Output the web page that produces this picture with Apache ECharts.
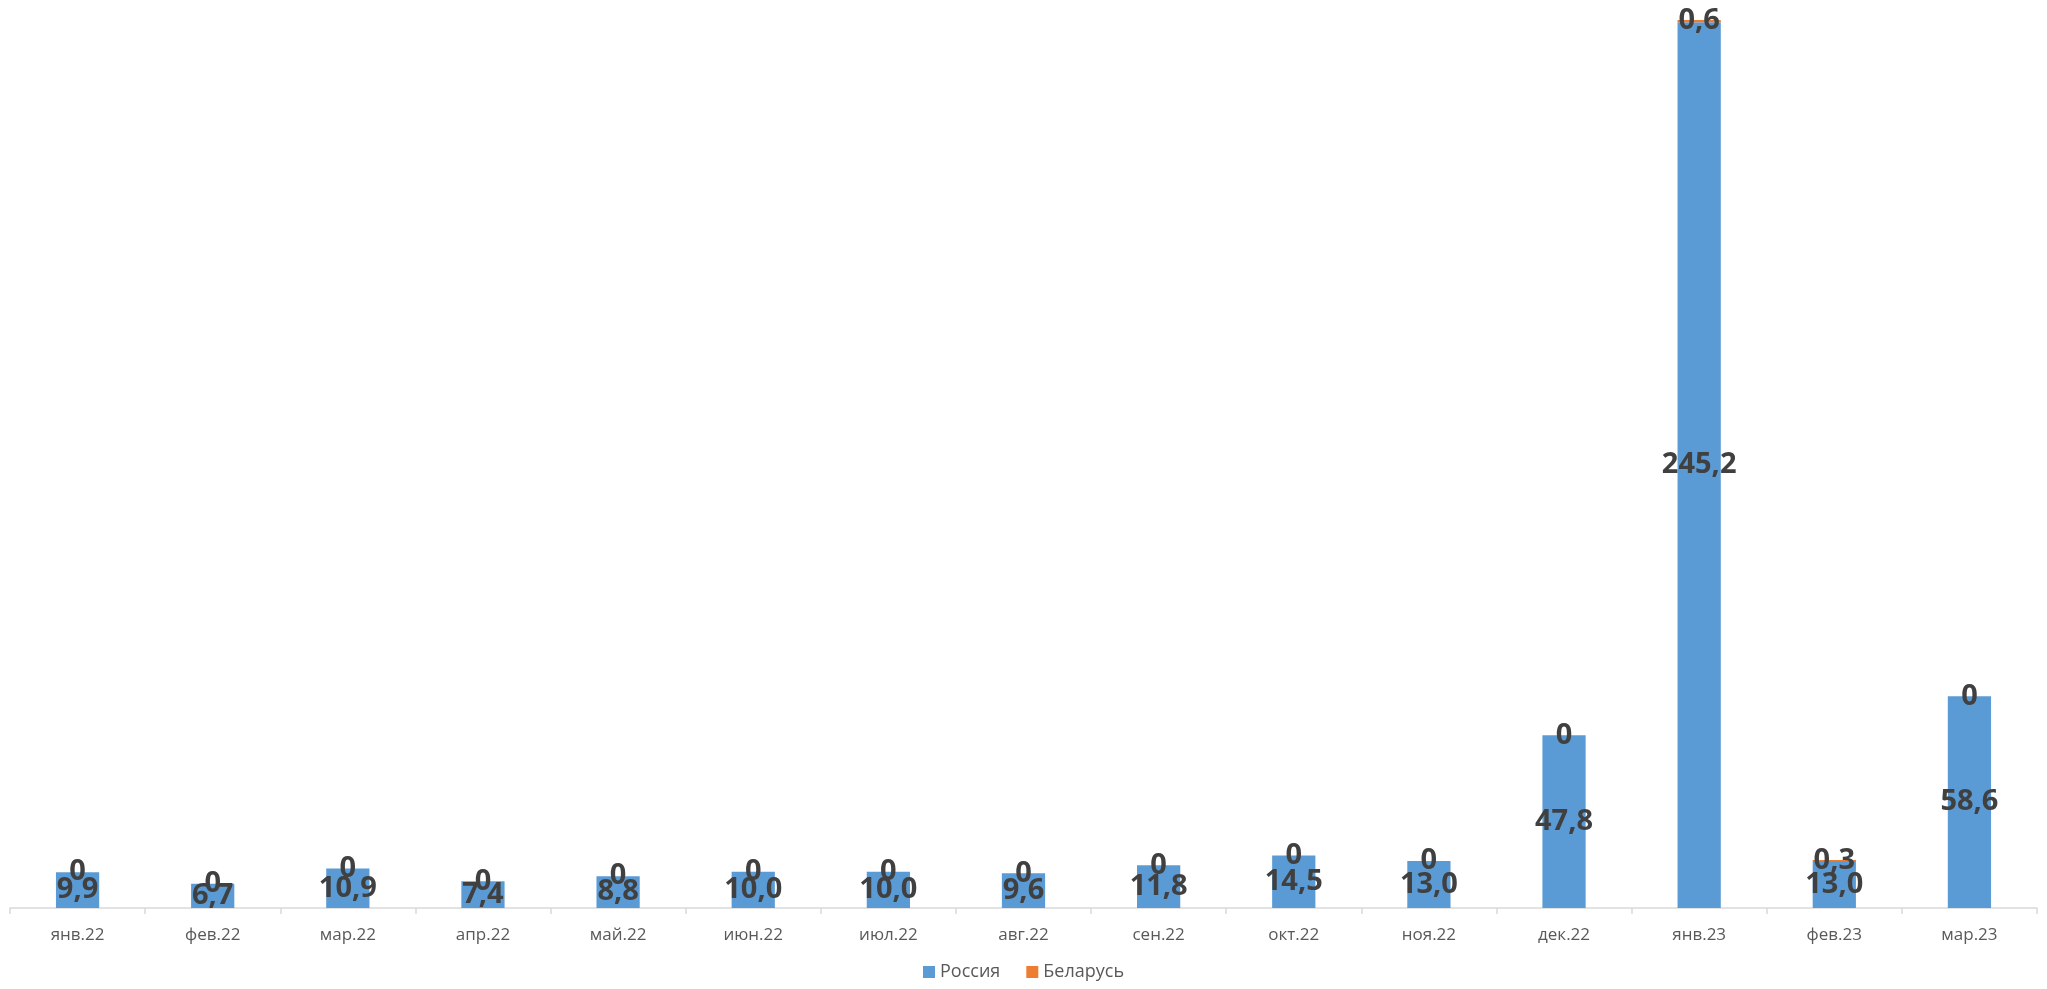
<!DOCTYPE html>
<html>
<head>
<meta charset="utf-8">
<script src="https://cdn.jsdelivr.net/npm/echarts@6/dist/echarts.min.js"></script>
<style>
  html, body { margin: 0; padding: 0; background: #fff; }
  #chart { width: 2047px; height: 989px; }
</style>
</head>
<body>
<div id="chart"></div>
<script>
const months = ['янв.22', 'фев.22', 'мар.22', 'апр.22', 'май.22', 'июн.22', 'июл.22', 'авг.22',
  'сен.22', 'окт.22', 'ноя.22', 'дек.22', 'янв.23', 'фев.23', 'мар.23'];
const russia = [9.9, 6.7, 10.9, 7.4, 8.8, 10.0, 10.0, 9.6, 11.8, 14.5, 13.0, 47.8, 245.2, 13.0, 58.6];
const belarus = [0, 0, 0, 0, 0, 0, 0, 0, 0, 0, 0, 0, 0.6, 0.3, 0];

let chart = echarts.init(document.getElementById('chart'));

// запятая вместо точки
function fmtRu(p) { return p.value.toFixed(1).replace('.', ','); }
function fmtBy(p) { return p.value === 0 ? '0' : String(p.value).replace('.', ','); }

const labelStyle = {
  show: true,
  position: 'inside',
  color: '#404040',
  fontSize: 29,
  fontWeight: 'bold',
  fontFamily: 'Open Sans'
};

chart.setOption({
  animation: false,
  grid: { left: 10, right: 10, top: 20, bottom: 81, containLabel: false },
  legend: {
    bottom: 3,
    left: 'center',
    icon: 'rect',
    itemWidth: 12,
    itemHeight: 12,
    itemGap: 26,
    textStyle: { color: '#595959', fontSize: 18, fontFamily: 'Open Sans' },
    data: ['Россия', 'Беларусь']
  },
  xAxis: {
    type: 'category',
    data: months,
    axisLine: { lineStyle: { color: '#D9D9D9', width: 1.5 } },
    axisTick: { show: true, length: 6, lineStyle: { color: '#D9D9D9', width: 1.5 } },
    axisLabel: { color: '#595959', fontSize: 17, fontFamily: 'Open Sans', margin: 19 }
  },
  yAxis: {
    type: 'value',
    min: 0,
    max: 245.8,
    show: false,
    splitLine: { show: false }
  },
  series: [
    {
      name: 'Россия',
      type: 'bar',
      stack: 'total',
      data: russia,
      barWidth: '32%',
      itemStyle: { color: '#5B9BD5' },
      label: Object.assign({}, labelStyle, { formatter: fmtRu })
    },
    {
      name: 'Беларусь',
      type: 'bar',
      stack: 'total',
      data: belarus,
      barWidth: '32%',
      itemStyle: { color: '#ED7D31' },
      label: Object.assign({}, labelStyle, { formatter: fmtBy })
    }
  ]
});
</script>
</body>
</html>
